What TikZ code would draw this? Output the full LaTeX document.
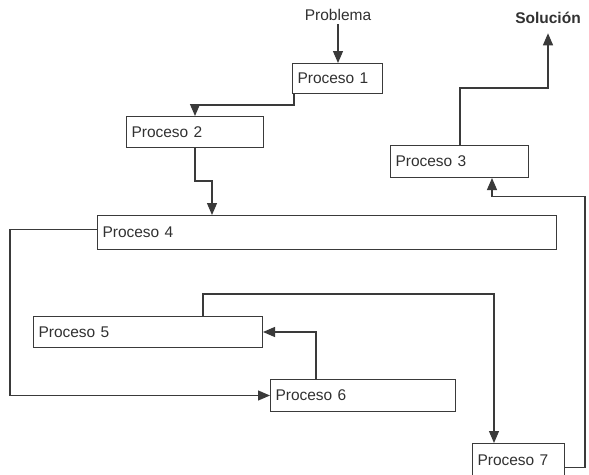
\documentclass[tikz,border=0pt]{standalone}
\usepackage{fontspec}
\setmainfont{Liberation Sans}
\usetikzlibrary{arrows.meta}
\definecolor{ink}{HTML}{3A3A3A}
\tikzset{
  box/.style={draw=ink, line width=1pt, fill=white, inner xsep=5pt, inner ysep=0pt,
    align=left, anchor=north west, text=ink!85!black,
    font=\fontsize{15.5pt}{18pt}\selectfont},
  arr/.style={draw=ink, line width=1.2pt,
    -{Triangle[length=12pt,width=10pt]}},
  lbl/.style={text=ink!85!black, font=\fontsize{15.5pt}{18pt}\selectfont}
}
\begin{document}
\begin{tikzpicture}[x=1pt,y=-1pt]
\useasboundingbox[fill=white] (0,0) rectangle (589,474);

% process boxes
\node[box, text width=80pt,  minimum height=30pt] (p1) at (292,63)  {Proceso 1};
\node[box, text width=127pt, minimum height=31pt] (p2) at (126,116) {Proceso 2};
\node[box, text width=128pt, minimum height=32pt] (p3) at (390,145) {Proceso 3};
\node[box, text width=449pt, minimum height=34pt] (p4) at (97,215)  {Proceso 4};
\node[box, text width=219pt, minimum height=31pt] (p5) at (33,316)  {Proceso 5};
\node[box, text width=175pt, minimum height=32pt] (p6) at (270,379) {Proceso 6};
\node[box, text width=82pt,  minimum height=33pt] (p7) at (472,443) {Proceso 7};

% start and end labels
\node[lbl] (prob) at (338,15) {Problema};
\node[lbl, font=\fontsize{15.5pt}{18pt}\selectfont\bfseries] (sol) at (548,18) {Solución};

% flow
\draw[arr] (prob.south) -- (prob.south |- p1.north);
\draw[arr] ([xshift=2pt]p1.south west) -- ++(0,11) -| ([xshift=69pt]p2.north west);
\draw[arr] ([xshift=69pt]p2.south west) -- ++(0,33) -| ([xshift=115pt]p4.north west);
\draw[arr] ([yshift=3pt]p4.west) -- ++(-87,0) |- (p6.west);
\draw[arr] ([xshift=46pt]p6.north west) |- (p5.east);
\draw[arr] ([xshift=170pt]p5.north west) -- ++(0,-22) -| ([xshift=22pt]p7.north west);
\draw[arr] ([yshift=-7.5pt]p7.east) -- ++(20,0) -- ++(0,-271) -| ([xshift=102pt]p3.south west);
\draw[arr] ([xshift=70pt]p3.north west) -- ++(0,-57) -| ([yshift=-6pt]sol.south);
\end{tikzpicture}
\end{document}
